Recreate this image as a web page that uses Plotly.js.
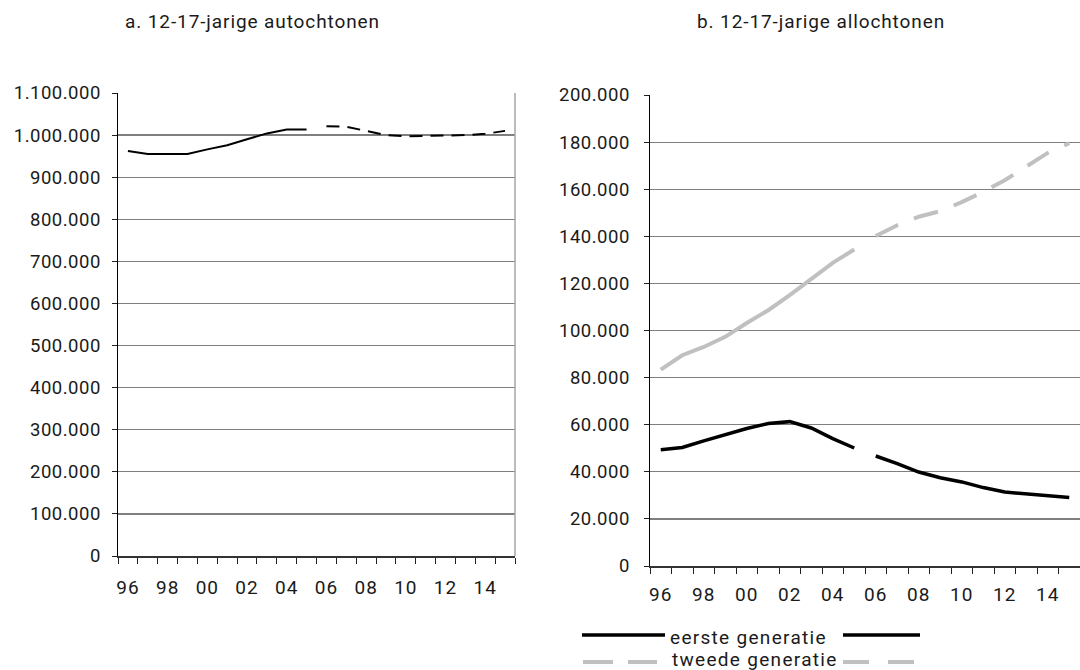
<!DOCTYPE html>
<html>
<head>
<meta charset="utf-8">
<script src="https://cdn.plot.ly/plotly-3.0.1.min.js"></script>
<style>html,body{margin:0;padding:0;background:#fff;}#chart{width:1080px;height:670px;}</style>
</head>
<body>
<div id="chart"></div>
<script>
// ---- data ----
const years = ['96','97','98','99','00','01','02','03','04','05','06','07','08','09','10','11','12','13','14','15'];
const tickLabels = ['96','','98','','00','','02','','04','','06','','08','','10','','12','','14',''];
const autochtonen = [962000, 955000, 955000, 955000, 966000, 976000, 990000, 1004000, 1013000, 1013000,
                     1021000, 1020000, 1010000, 1000000, 997000, 998000, 1000000, 1000000, 1003000, 1010000];
const eersteGeneratie = [49400, 50300, 53100, 55700, 58400, 60500, 61300, 58600, 54100, 50100,
                         46700, 43500, 39900, 37500, 35700, 33300, 31400, 30700, 29900, 29100];
const tweedeGeneratie = [83400, 89500, 93000, 97300, 103200, 108600, 115000, 121700, 128700, 134400,
                         140100, 144700, 148300, 150700, 154500, 158900, 163800, 169800, 175400, 179500];
const leftTicks = [0,100000,200000,300000,400000,500000,600000,700000,800000,900000,1000000,1100000];
const rightTicks = [0,20000,40000,60000,80000,100000,120000,140000,160000,180000,200000];
const legendNames = ['eerste generatie','tweede generatie'];
const panelTitles = ['a. 12-17-jarige autochtonen','b. 12-17-jarige allochtonen'];
const split = 10; // index of year 06, where projection starts

const W = 1080, H = 670;
const px = v => v / W, py = v => 1 - v / H;

const FONT = 'Roboto, "Noto Sans", Arial, sans-serif';
const TXT = '#1a1a1a';
const sp = (s, ls) => s === '' ? '' : '<span style="letter-spacing:' + ls + 'px">' + s + '</span>';
const fmt = v => String(v).replace(/\B(?=(\d{3})+(?!\d))/g, '.');

const traces = [
  {x: years.slice(0, split), y: autochtonen.slice(0, split), xaxis:'x', yaxis:'y', mode:'lines',
   line:{color:'#000', width:2}, showlegend:false, hoverinfo:'skip'},
  {x: years.slice(split), y: autochtonen.slice(split), xaxis:'x', yaxis:'y', mode:'lines',
   line:{color:'#000', width:2, dash:'13px,8px'}, showlegend:false, hoverinfo:'skip'},
  {x: years.slice(0, split), y: tweedeGeneratie.slice(0, split), xaxis:'x2', yaxis:'y2', mode:'lines',
   line:{color:'#c0c0c0', width:4}, showlegend:false, hoverinfo:'skip'},
  {x: years.slice(split), y: tweedeGeneratie.slice(split), xaxis:'x2', yaxis:'y2', mode:'lines',
   line:{color:'#c0c0c0', width:4, dash:'25px,17px'}, showlegend:false, hoverinfo:'skip'},
  {x: years.slice(0, split), y: eersteGeneratie.slice(0, split), xaxis:'x2', yaxis:'y2', mode:'lines',
   line:{color:'#000', width:3.5}, showlegend:false, hoverinfo:'skip'},
  {x: years.slice(split), y: eersteGeneratie.slice(split), xaxis:'x2', yaxis:'y2', mode:'lines',
   line:{color:'#000', width:3.5}, showlegend:false, hoverinfo:'skip'}
];

const xBase = {
  type:'category', categoryorder:'array', categoryarray: years, range:[-0.5, years.length - 0.5],
  tickmode:'array', tickvals: years, ticktext: tickLabels.map(t => sp(t, 1)), tickangle:0,
  tickson:'boundaries', ticks:'outside', ticklen:6, tickcolor:'#222', tickwidth:1,
  showline:true, linecolor:'#333', linewidth:1.5, showgrid:false, zeroline:false,
  tickfont:{family:FONT, size:19, color:TXT}, ticklabelstandoff:11, fixedrange:true
};
const yBase = {
  tickmode:'array', ticks:'outside', ticklen:5, tickcolor:'#222', tickwidth:1,
  showline:true, linecolor:'#000', linewidth:1.5, showgrid:true, gridcolor:'#7f7f7f', gridwidth:1.2,
  zeroline:false, tickfont:{family:FONT, size:18.5, color:TXT},
  ticklabelstandoff:7, fixedrange:true
};

const layout = {
  width:W, height:H, margin:{l:0, r:0, t:0, b:0},
  paper_bgcolor:'#fff', plot_bgcolor:'#fff', showlegend:false,
  font:{family:FONT, color:TXT},
  xaxis: Object.assign({}, xBase, {domain:[px(118), px(515)], anchor:'y', ticklabelstandoff:14}),
  yaxis: Object.assign({}, yBase, {domain:[py(556), py(93)], anchor:'x', range:[0,1100000],
         tickvals:leftTicks, ticktext:leftTicks.map(v => sp(fmt(v), 0.5))}),
  xaxis2: Object.assign({}, xBase, {domain:[px(650), px(1080)], anchor:'y2'}),
  yaxis2: Object.assign({}, yBase, {domain:[py(566), py(95)], anchor:'x2', range:[0,200000],
         tickvals:rightTicks, ticktext:rightTicks.map(v => sp(fmt(v), 0.5)), ticklabelstandoff:10}),
  shapes: [
    {type:'line', xref:'x domain', yref:'y domain', x0:1, x1:1, y0:0, y1:1, line:{color:'#a6a6a6', width:1.5}},
    // legend samples
    {type:'line', xref:'paper', yref:'paper', x0:px(582), x1:px(665), y0:py(635), y1:py(635), line:{color:'#000', width:3.5}},
    {type:'line', xref:'paper', yref:'paper', x0:px(843), x1:px(920), y0:py(635), y1:py(635), line:{color:'#000', width:3.5}},
    {type:'line', xref:'paper', yref:'paper', x0:px(583), x1:px(657), y0:py(662), y1:py(662), line:{color:'#c0c0c0', width:4, dash:'30px,15px'}},
    {type:'line', xref:'paper', yref:'paper', x0:px(843), x1:px(915), y0:py(662), y1:py(662), line:{color:'#c0c0c0', width:4, dash:'26px,19px'}}
  ],
  annotations: [
    {text: sp(panelTitles[0], 0.9), xref:'paper', yref:'paper', x:px(252), y:py(21), xanchor:'center', yanchor:'middle', showarrow:false, font:{family:FONT, size:19, color:TXT}},
    {text: sp(panelTitles[1], 0.9), xref:'paper', yref:'paper', x:px(821), y:py(21), xanchor:'center', yanchor:'middle', showarrow:false, font:{family:FONT, size:19, color:TXT}},
    {text: sp(legendNames[0], 1.3), xref:'paper', yref:'paper', x:px(668), y:py(637), xanchor:'left', yanchor:'middle', showarrow:false, font:{family:FONT, size:19, color:TXT}},
    {text: sp(legendNames[1], 1.3), xref:'paper', yref:'paper', x:px(670), y:py(659), xanchor:'left', yanchor:'middle', showarrow:false, font:{family:FONT, size:19, color:TXT}}
  ]
};

Plotly.newPlot('chart', traces, layout, {staticPlot:true, displayModeBar:false});
</script>
</body>
</html>
